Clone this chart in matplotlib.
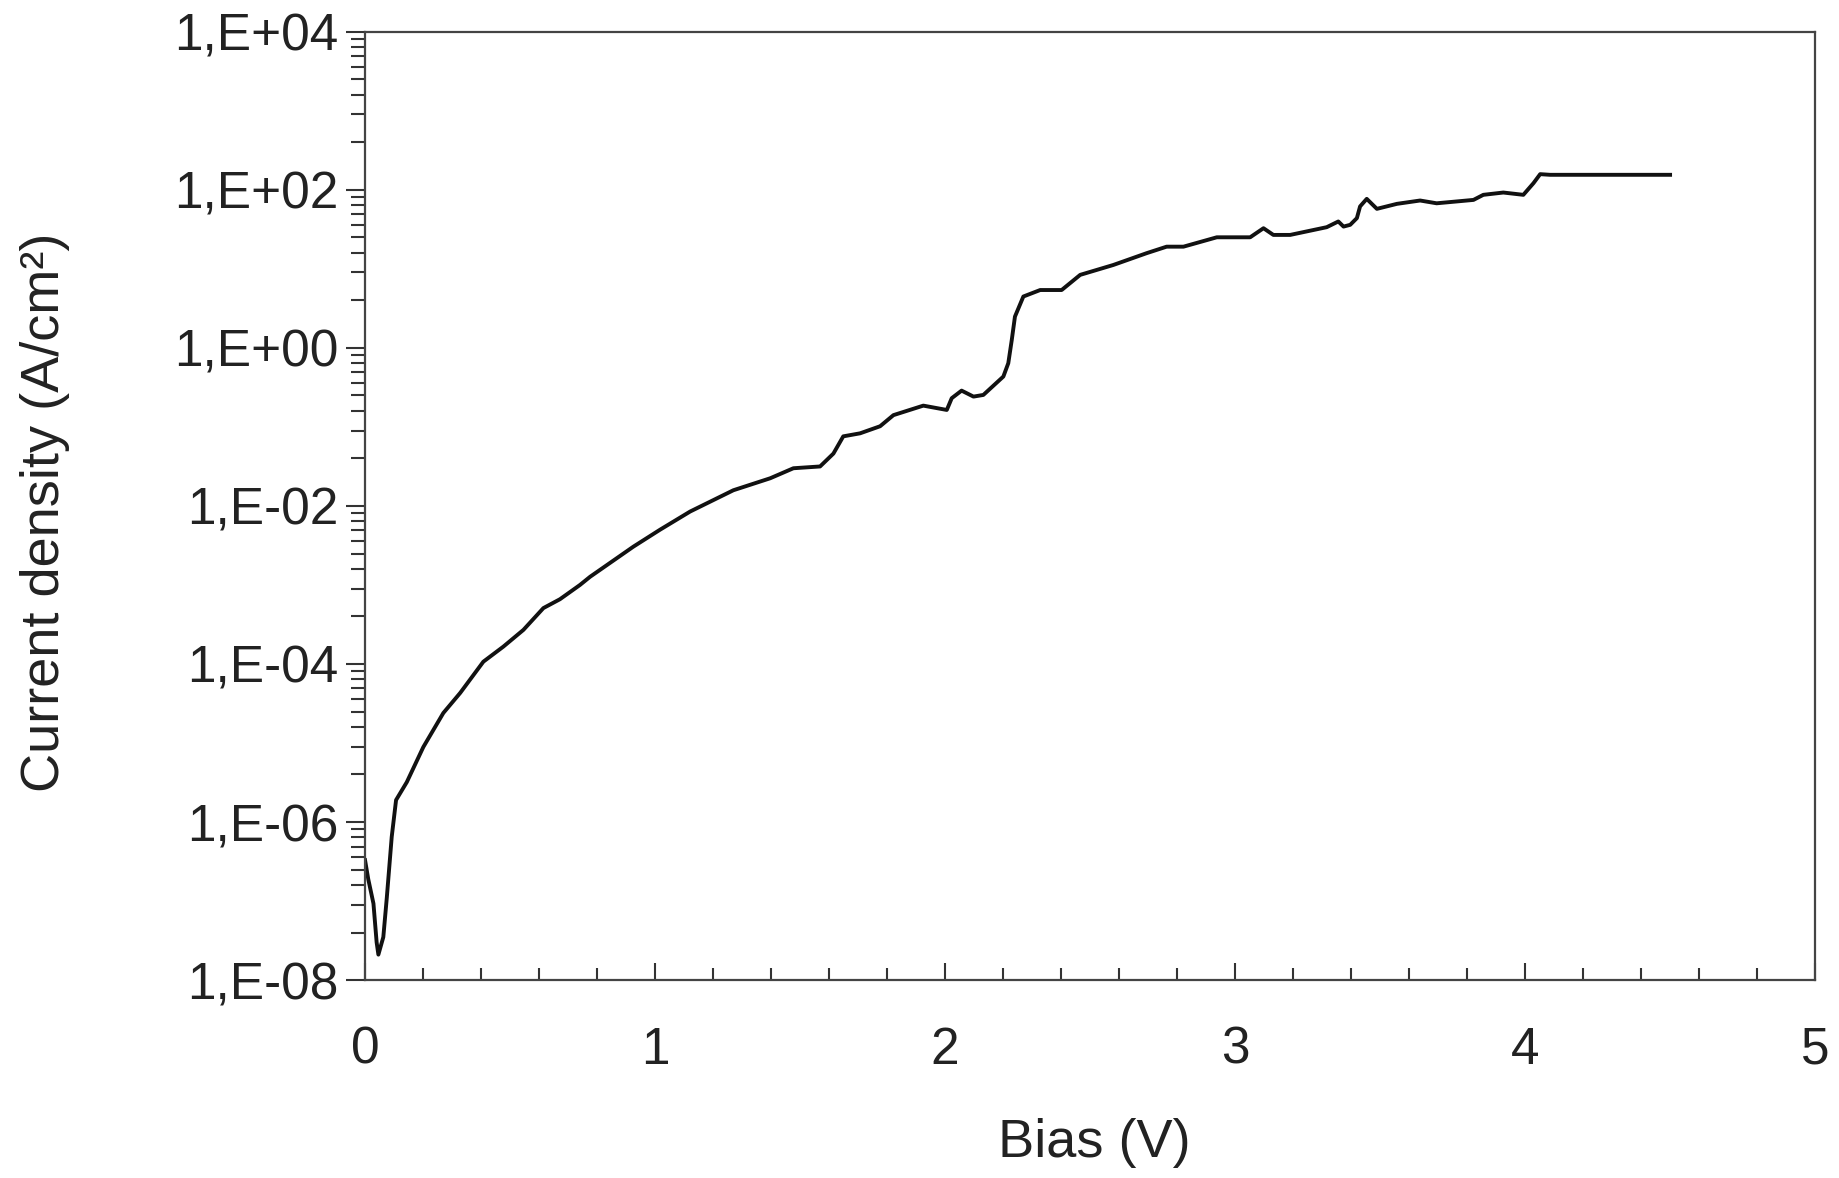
import math
import matplotlib
matplotlib.use("Agg")
import matplotlib.pyplot as plt
from matplotlib.ticker import FixedLocator, FuncFormatter, MultipleLocator

# bias (V) and current density (A/cm2)
bias = [0.0, 0.011, 0.029, 0.040, 0.046, 0.063, 0.075, 0.092, 0.107, 0.144,
        0.201, 0.27, 0.328, 0.408, 0.477, 0.546, 0.615, 0.672, 0.741, 0.776,
        0.925, 1.017, 1.121, 1.27, 1.397, 1.477, 1.569, 1.615, 1.649, 1.707,
        1.776, 1.822, 1.925, 2.006, 2.023, 2.057, 2.098, 2.132, 2.201, 2.218,
        2.230, 2.241, 2.270, 2.328, 2.402, 2.466, 2.58, 2.695, 2.764, 2.822,
        2.937, 3.052, 3.098, 3.132, 3.19, 3.316, 3.356, 3.374, 3.397, 3.42,
        3.431, 3.454, 3.489, 3.558, 3.638, 3.695, 3.822, 3.856, 3.925, 3.994,
        4.029, 4.052, 4.086, 4.50]
current = [3.3e-7, 1.9e-7, 9.3e-8, 3.0e-8, 2.1e-8, 3.5e-8, 1.1e-7, 6.5e-7, 1.9e-6, 3.2e-6,
           8.9e-6, 2.4e-5, 4.3e-5, 1.07e-4, 1.66e-4, 2.7e-4, 5.1e-4, 6.6e-4, 1.0e-3, 1.27e-3,
           3.05e-3, 5.0e-3, 8.5e-3, 1.58e-2, 2.24e-2, 3.0e-2, 3.16e-2, 4.6e-2, 7.6e-2, 8.3e-2,
           0.102, 0.141, 0.186, 0.164, 0.231, 0.288, 0.242, 0.254, 0.434, 0.64,
           1.26, 2.49, 4.47, 5.4, 5.4, 8.4, 11.2, 15.8, 19.1, 19.1,
           25.1, 25.1, 32.7, 26.9, 26.9, 33.7, 39.8, 34.3, 36.1, 43.9,
           61.7, 76.9, 57.5, 66.5, 73.3, 67.6, 74.6, 86.5, 92.5, 86.5,
           121.6, 158, 155, 155]

major_y = [1e-8, 1e-6, 1e-4, 1e-2, 1e0, 1e2, 1e4]
# the old plotting program put minor ticks at k^2 times each major tick
minor_y = [m * k ** 2 for m in major_y[:-1] for k in range(2, 10)]


def sci_label(v, pos):
    return "1,E%+03d" % round(math.log10(v))


plt.rcParams['font.family'] = ['Liberation Sans', 'DejaVu Sans']

fig = plt.figure(figsize=(18.39, 11.78), dpi=100)
ax = fig.add_axes([0.1985, 0.168, 0.7885, 0.805])

ax.plot(bias, current, color='#111111', linewidth=2.8)

ax.set_yscale('log')
ax.set_xlim(0, 5)
ax.set_ylim(1e-8, 1e4)

ax.yaxis.set_major_locator(FixedLocator(major_y))
ax.yaxis.set_minor_locator(FixedLocator(minor_y))
ax.yaxis.set_major_formatter(FuncFormatter(sci_label))
ax.yaxis.set_minor_formatter(FuncFormatter(lambda v, p: ""))

ax.xaxis.set_major_locator(MultipleLocator(1))
ax.xaxis.set_minor_locator(MultipleLocator(0.2))

for s in ax.spines.values():
    s.set_color('#444444')
    s.set_linewidth(1.6)

ax.tick_params(axis='x', which='both', direction='in', colors='#333333',
               labelcolor='#222222', labelsize=37, pad=33)
ax.tick_params(axis='x', which='major', length=12, width=1.5)
ax.tick_params(axis='x', which='minor', length=8.5, width=1.5)
ax.tick_params(axis='y', which='both', direction='out', colors='#333333',
               labelcolor='#222222', labelsize=37, pad=5)
ax.tick_params(axis='y', which='major', length=14, width=1.5)
ax.tick_params(axis='y', which='minor', length=10, width=1.5)

ax.set_xlabel('Bias (V)', fontsize=39, color='#222222')
ax.xaxis.set_label_coords(0.503, -0.172)
ax.xaxis.label.set_va('center')
ax.set_ylabel('Current density (A/cm²)', fontsize=39, color='#222222')
ax.yaxis.set_label_coords(-0.2207, 0.493)
ax.yaxis.label.set_va('center')

fig.savefig('out.png', dpi=100, facecolor='white')
